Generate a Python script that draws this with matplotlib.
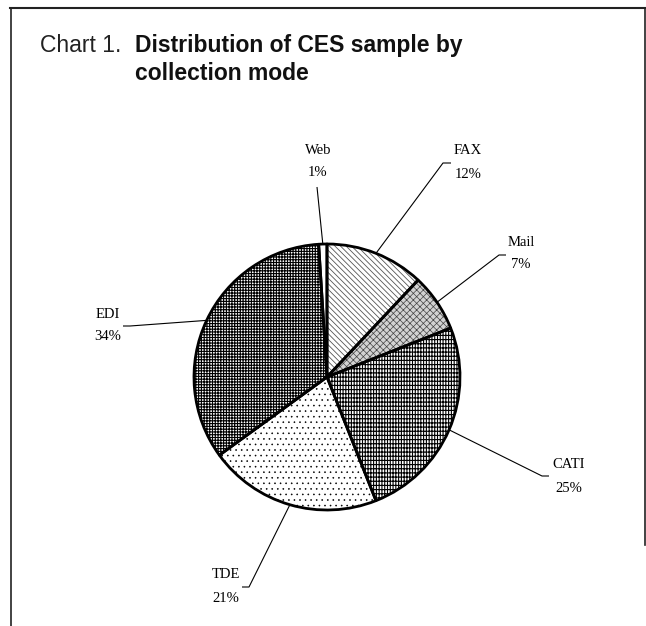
import numpy as np
import matplotlib
matplotlib.use("Agg")
import matplotlib.pyplot as plt
from matplotlib.lines import Line2D

# data (share of CES sample, %)
modes = ["FAX", "Mail", "CATI", "TDE", "EDI", "Web"]
shares = [12, 7, 25, 21, 34, 1]

# fill style per slice (face, hatch, hatch colour, hatch width)
faces = ["white", "#d2d2d2", "white", "white", "white", "white"]
hatches = ["\\" * 6, "xxxxx", "||||||----", "...", "++++++", ""]
hatch_cols = ["#555555", "#444444", "black", "black", "black", "black"]
hatch_lws = [0.6, 0.5, 0.8, 0.4, 0.8, 0.8]

W, H = 646, 626
CX, CY, R = 327, 377, 133          # pie centre / radius in pixels


def px(x, y):
    """ Pixel position -> data coordinates (pie radius = 1). """
    return (x - CX) / R, (CY - y) / R


# label layout in pixels: (elbow, end of short horizontal, text x, name y, pct y)
label_layout = {
    "Web":  (None, (317, 187), 318, 150, 173),
    "FAX":  ((443, 163), (451, 163), 468, 151, 174),
    "Mail": ((499, 255), (506, 255), 521, 242, 264),
    "CATI": ((542, 476), (549, 476), 569, 464, 488),
    "TDE":  ((249, 587), (242, 587), 226, 575, 598),
    "EDI":  ((130, 326), (123, 326), 108, 314, 337),
}

plt.rcParams["hatch.linewidth"] = 0.8

fig = plt.figure(figsize=(W / 100, H / 100), dpi=100)
ax = fig.add_axes([0, 0, 1, 1])

wedges, _ = ax.pie(shares, startangle=90, counterclock=False,
                   radius=1, center=(0, 0), frame=False)
for w, fc, hc, hcol, hlw in zip(wedges, faces, hatches, hatch_cols, hatch_lws):
    w.set_facecolor(fc)
    w.set_edgecolor(hcol)
    w.set_hatch(hc)
    w.set_linewidth(0)
    if hasattr(w, "set_hatch_linewidth"):
        w.set_hatch_linewidth(hlw)

# outlines on top
outl, _ = ax.pie(shares, startangle=90, counterclock=False,
                 radius=1, center=(0, 0), frame=False,
                 wedgeprops=dict(facecolor="none", edgecolor="black",
                                 linewidth=2.0, joinstyle="round"))

ax.set_xlim(-CX / R, (W - CX) / R)
ax.set_ylim((CY - H) / R, CY / R)
ax.axis("off")

# labels with leader lines
serif = "Liberation Serif"
cum = np.cumsum([0] + shares[:-1])
for name, v, c in zip(modes, shares, cum):
    theta = np.deg2rad(90 - 360 * (c + v / 2) / 100)
    edge = (np.cos(theta), np.sin(theta))
    elbow, hend, tx, y1, y2 = label_layout[name]
    pts = [edge]
    if elbow is not None:
        pts.append(px(*elbow))
    pts.append(px(*hend))
    xs, ys = zip(*pts)
    ax.plot(xs, ys, color="black", lw=0.8, solid_capstyle="butt")
    ax.text(*px(tx, y1), name, ha="center", va="center",
            fontsize=10.5, family=serif)
    ax.text(*px(tx, y2), f"{v}%", ha="center", va="center",
            fontsize=10.5, family=serif)

# title
sans = "Liberation Sans"
fig.text(40 / W, 1 - 52 / H, "Chart 1.", fontsize=16.5, family=sans,
         color="#222222", va="baseline", ha="left")
fig.text(135 / W, 1 - 52 / H, "Distribution of CES sample by", fontsize=16.5,
         family=sans, fontweight="bold", color="#111111", va="baseline", ha="left")
fig.text(135 / W, 1 - 80 / H, "collection mode", fontsize=16.5,
         family=sans, fontweight="bold", color="#111111", va="baseline", ha="left")

# frame around the chart
fig.add_artist(Line2D([10 / W, 1], [1 - 7.5 / H, 1 - 7.5 / H], color="#222222", lw=1.5))
fig.add_artist(Line2D([11 / W, 11 / W], [1 - 7.5 / H, 0], color="#222222", lw=1.2))
fig.add_artist(Line2D([645 / W, 645 / W], [1 - 7.5 / H, 1 - 545 / H], color="#222222", lw=1.2))

fig.savefig("out.png", dpi=100)
